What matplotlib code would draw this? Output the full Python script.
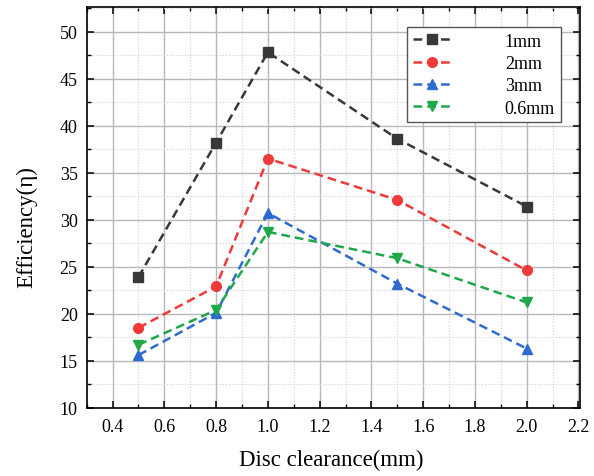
import matplotlib.pyplot as plt
from matplotlib.ticker import MultipleLocator, FormatStrFormatter

# disc clearance (mm) and efficiency for each series
clearance = [0.5, 0.8, 1.0, 1.5, 2.0]
eff_1mm = [23.9, 38.2, 47.8, 38.6, 31.4]
eff_2mm = [18.5, 22.9, 36.5, 32.1, 24.6]
eff_3mm = [15.6, 20.1, 30.7, 23.2, 16.3]
eff_06mm = [16.7, 20.4, 28.7, 25.9, 21.2]
labels = ['1mm', '2mm', '3mm', '0.6mm']

plt.rcParams['font.family'] = ['Liberation Serif', 'DejaVu Serif']

fig = plt.figure(figsize=(5.94, 4.77), dpi=100)
ax = fig.add_axes([0.146, 0.143, 0.830, 0.840])

estilos = [('#383838', 's'), ('#f03a3a', 'o'), ('#2e6bd0', '^'), ('#1fa84a', 'v')]
series = [eff_1mm, eff_2mm, eff_3mm, eff_06mm]
for y, (cor, mk), lab in zip(series, estilos, labels):
    ax.plot(clearance, y, color=cor, marker=mk, markersize=7, linewidth=1.8,
            linestyle=(0, (3.5, 2)), label=lab)

ax.set_xlim(0.3, 2.205)
ax.set_ylim(10, 52.6)
ax.xaxis.set_major_locator(MultipleLocator(0.2))
ax.xaxis.set_minor_locator(MultipleLocator(0.1))
ax.yaxis.set_major_locator(MultipleLocator(5))
ax.yaxis.set_minor_locator(MultipleLocator(2.5))
ax.xaxis.set_major_formatter(FormatStrFormatter('%.1f'))

ax.grid(which='major', color='#b8b8b8', linewidth=1.0, linestyle='-')
ax.grid(which='minor', color='#d0d0d0', linewidth=0.8, linestyle=':')
ax.set_axisbelow(True)

ax.tick_params(which='both', direction='in', top=True, right=True)
ax.tick_params(which='major', length=5, width=1.1, labelsize=13)
ax.tick_params(axis='y', which='major', pad=6.5)
ax.tick_params(axis='x', which='major', pad=7)
ax.tick_params(which='minor', length=3, width=1.0)
for s in ax.spines.values():
    s.set_linewidth(1.2)

ax.set_xlabel('Disc clearance(mm)', fontsize=16.5)
ax.set_ylabel('Efficiency(η)', fontsize=16.5)
ax.xaxis.set_label_coords(0.495, -0.102)
ax.yaxis.set_label_coords(-0.10, 0.454)

ax.legend(loc='upper right', bbox_to_anchor=(0.961, 0.950), borderaxespad=0,
          fontsize=13, handlelength=2.1, handletextpad=3.0, labelspacing=0.3,
          borderpad=0.3, fancybox=False, edgecolor='#555555', framealpha=1)

fig.savefig('out.png', dpi=100)
